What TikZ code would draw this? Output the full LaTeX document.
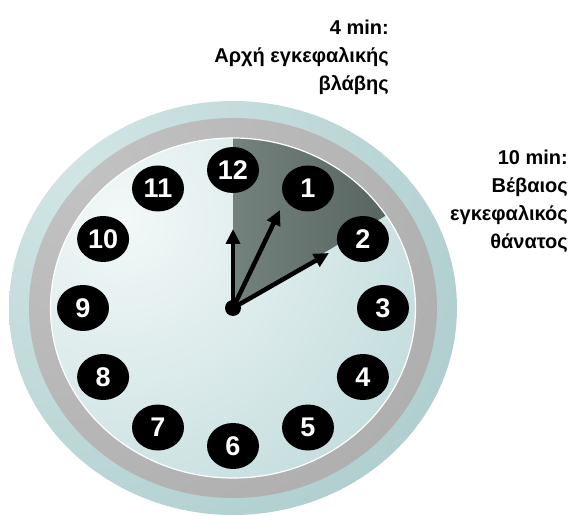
\documentclass[tikz,border=0pt]{standalone}
\usepackage{fontspec}
\setmainfont{Liberation Sans}
\usetikzlibrary{arrows.meta,shapes.geometric}
\definecolor{outerL}{HTML}{D2E5E5}
\definecolor{outerD}{HTML}{88B4B5}
\definecolor{greyL}{HTML}{C2C2C2}
\definecolor{greyD}{HTML}{969696}
\definecolor{faceL}{HTML}{F3F8F8}
\definecolor{faceD}{HTML}{95C2C2}
\definecolor{secL}{HTML}{74827E}
\definecolor{secD}{HTML}{525F5B}
\pgfdeclareradialshading{outershade}{\pgfpointorigin}{color(0bp)=(outerL); color(50bp)=(outerD)}
\pgfdeclareradialshading{greyshade}{\pgfpointorigin}{color(0bp)=(greyL); color(50bp)=(greyD)}
\pgfdeclareradialshading{faceshade}{\pgfpointorigin}{color(0bp)=(faceL); color(50bp)=(faceD)}
\begin{document}
\begin{tikzpicture}[x=1pt,y=1pt,
  numc/.style={ellipse, fill=black, minimum width=52pt, minimum height=46pt, inner sep=0pt,
    text=white, font=\fontsize{27}{27}\selectfont\bfseries},
  hand/.style={line width=4.5pt, -{Triangle[length=15pt,width=14pt]}},
  lbl/.style={align=right, inner sep=0pt, font=\fontsize{20}{28}\selectfont\bfseries}]
\useasboundingbox[fill=white] (0,0) rectangle (573,516);
\begin{scope}[shift={(233,208)}]
  % outer rim
  \begin{scope}
    \clip (0,0) ellipse [x radius=224, y radius=207];
    \shade[shading=outershade] (-150,130) circle (460);
  \end{scope}
  % grey band
  \begin{scope}
    \clip (0,0) ellipse [x radius=204, y radius=190];
    \shade[shading=greyshade] (-150,130) circle (460);
  \end{scope}
  % face
  \begin{scope}
    \clip (0,0) ellipse [x radius=182.5, y radius=170];
    \shade[shading=faceshade] (-110,90) circle (330);
  \end{scope}
  % shaded sector
  \begin{scope}
    \clip (0,0) -- (0,170) arc[start angle=90, end angle=33, x radius=182.5, y radius=170] -- cycle;
    \shade[left color=secL, right color=secD] (0,0) rectangle (184,171);
  \end{scope}
  \draw[white, line width=1.2pt] (0,0) ellipse [x radius=182.5, y radius=170];
  % numbers
  \foreach \k in {1,...,12}
    \node[numc] (n\k) at ({150*cos(90-30*\k)}, {138*sin(90-30*\k)}) {\k};
  % hands
  \node[circle, fill=black, minimum size=16pt, inner sep=0pt] (c) at (0,0) {};
  \coordinate (t1) at (0,79);
  \coordinate (t2) at (47,98);
  \coordinate (t3) at (96,55);
  \draw[hand] (c.center) -- (t1);
  \draw[hand] (c.center) -- (t2);
  \draw[hand] (c.center) -- (t3);
\end{scope}
\node[lbl, anchor=north east] (lab4) at (389,496) {4 min:\\Αρχή εγκεφαλικής\\βλάβης};
\node[lbl, anchor=north east] (lab10) at (568,366) {10 min:\\Βέβαιος\\εγκεφαλικός\\θάνατος};
\end{tikzpicture}
\end{document}
